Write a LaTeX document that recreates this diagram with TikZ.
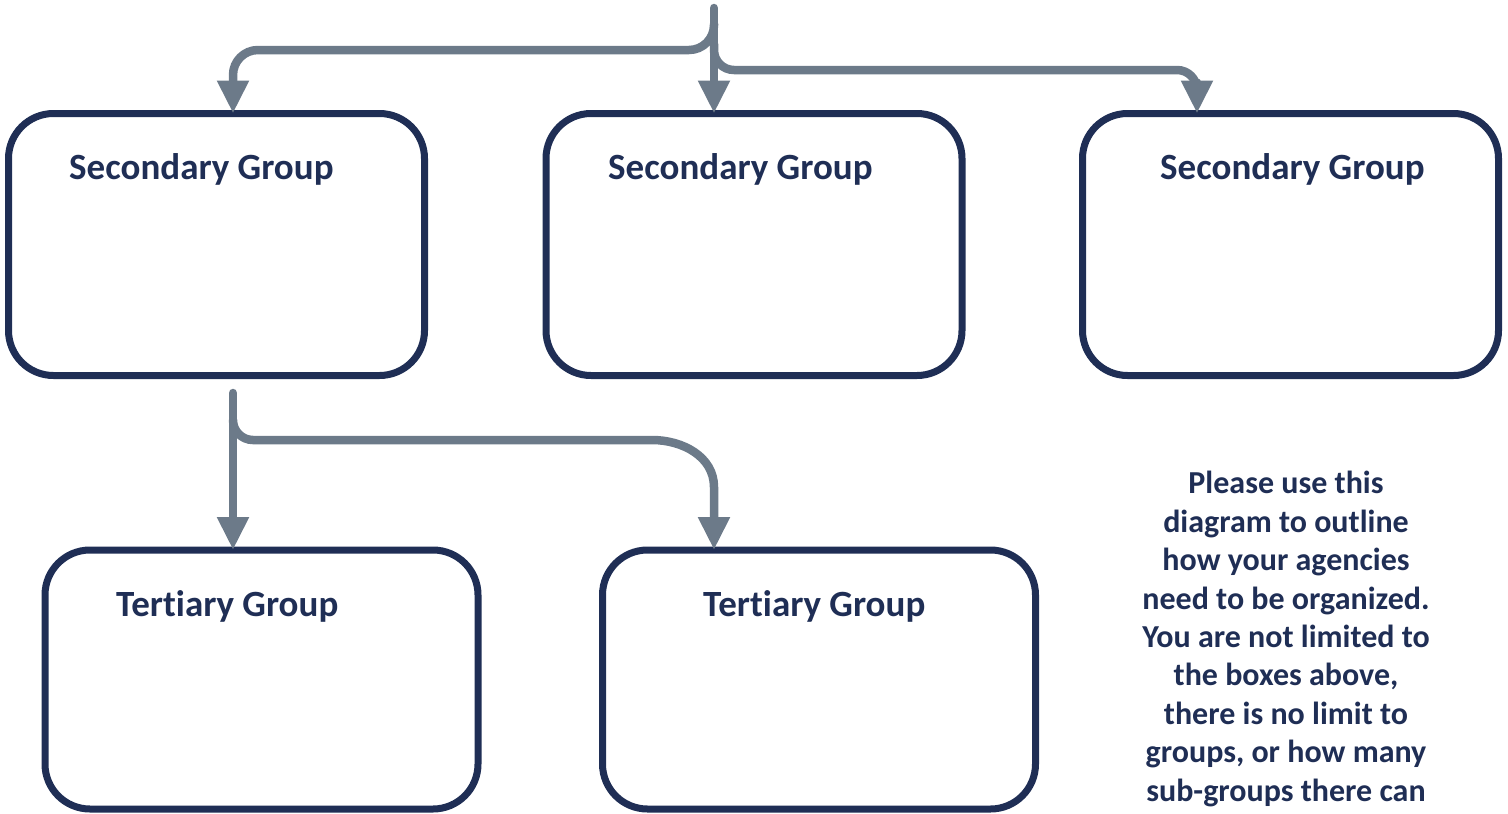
\documentclass[tikz,border=0pt]{standalone}
\usepackage{fontspec}
\setmainfont{Carlito}[RawFeature={-liga;-clig;-dlig}]
\usetikzlibrary{arrows.meta}
\definecolor{navy}{HTML}{1F2E55}
\definecolor{slate}{HTML}{6C7A89}
\begin{document}
\begin{tikzpicture}[x=1pt,y=-1pt,
  box/.style={draw=navy, line width=7pt, rounded corners=45pt, outer sep=0pt, inner sep=0pt},
  title/.style={anchor=base west, text=navy, font=\fontsize{37}{44}\selectfont\bfseries, inner sep=0pt},
  conn/.style={draw=slate, line width=8.5pt, line cap=round, -{Triangle[width=30pt,length=33pt]}}]
\useasboundingbox (0,0) rectangle (1508,814);
% boxes
\node[box, minimum width=416pt, minimum height=262pt] (s1) at (216.5,244.5) {};
\node[box, minimum width=416pt, minimum height=262pt] (s2) at (754,244.5) {};
\node[box, minimum width=416pt, minimum height=262pt] (s3) at (1290.5,244.5) {};
\node[box, minimum width=433pt, minimum height=259pt] (s4) at (261.5,679.5) {};
\node[box, minimum width=433pt, minimum height=259pt] (s5) at (819,679.5) {};
% titles
\node[title] (t1) at (69,179) {Secondary Group};
\node[title] (t2) at (608,179) {Secondary Group};
\node[title] (t3) at (1160,179) {Secondary Group};
\node[title] (t4) at (116,616) {Tert\kern0pt iary Group};
\node[title] (t5) at (703,616) {Tert\kern0pt iary Group};
% note (base anchor = last line baseline)
\node[anchor=base, text=navy, align=center, inner sep=0pt,
      font=\fontsize{32}{38.4}\selectfont\bfseries] (note) at (1286,801)
  {Please use this\\diagram to outline\\how your agencies\\need to be organized.\\You are not limited to\\the boxes above,\\there is no limit to\\groups, or how many\\sub-groups there can};
% connectors
\coordinate (root) at (714,8);
\coordinate (jL) at (714,24);
\coordinate (jR) at (714,44);
\coordinate (aL) at (233,50);
\coordinate (aR) at (1197,70);
\draw[conn] (root) -- (root |- s2.north);
\draw[conn, rounded corners=25pt] (jL) |- (aL) -- (aL |- s1.north);
\draw[conn, rounded corners=20pt] (jR) |- (aR) -- (aR |- s3.north);
\coordinate (b0) at (233,393);
\coordinate (jB) at (233,420);
\coordinate (bR) at (714,487);
\draw[conn] (b0) -- (b0 |- s4.north);
\draw[conn] (jB) to[out=-90,in=180] (253,440) -- (652,440) to[out=0,in=90] (bR) -- (bR |- s5.north);
\end{tikzpicture}
\end{document}
